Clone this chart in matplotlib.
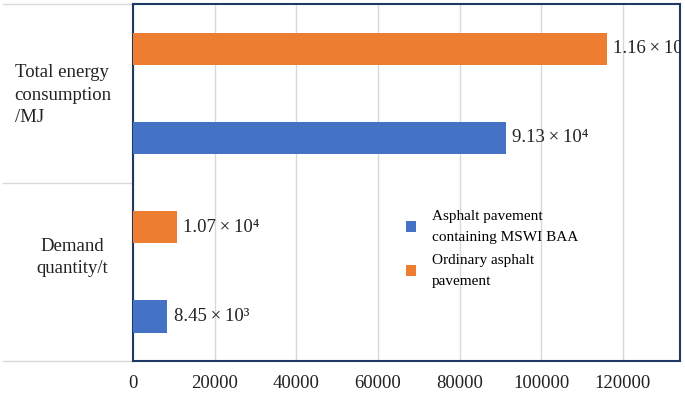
import numpy as np
import matplotlib.pyplot as plt
from matplotlib.lines import Line2D

plt.rcParams['font.family'] = ['Liberation Serif', 'DejaVu Serif']

categories = ['Demand\nquantity/t', 'Total energy\nconsumption\n/MJ']
series = ['Asphalt pavement\ncontaining MSWI BAA', 'Ordinary asphalt\npavement']
baa_vals = [8450, 91300]
ordinary_vals = [10700, 116000]
baa_labels = ['8.45\u2009×\u200910³', '9.13\u2009×\u200910⁴']
ordinary_labels = ['1.07\u2009×\u200910⁴', '1.16\u2009×\u200910⁵']
xticks = [0, 20000, 40000, 60000, 80000, 100000, 120000]

fig = plt.figure(figsize=(6.85, 3.93), dpi=100)
ax = fig.add_axes([0.194, 0.081, 0.799, 0.909])

y = np.arange(len(categories))
h = 0.18
b1 = ax.barh(y - 0.25, baa_vals, height=h, color='#4472C4', label=series[0], zorder=3)
b2 = ax.barh(y + 0.25, ordinary_vals, height=h, color='#ED7D31', label=series[1], zorder=3)

for bars, labs in [(b1, baa_labels), (b2, ordinary_labels)]:
    for bar, lab in zip(bars, labs):
        ax.text(bar.get_width() + 1500, bar.get_y() + bar.get_height() / 2, lab,
                va='center', ha='left', fontsize=13.5, color='#222222', clip_on=True)

ax.set_xlim(0, 134000)
ax.set_ylim(-0.5, 1.5)
ax.set_xticks(xticks)
ax.set_xticklabels([str(t) for t in xticks], fontsize=13.5, color='#222222')
ax.tick_params(axis='x', length=0, pad=10)
ax.set_yticks([])
ax.grid(axis='x', color='#d9d9d9', linewidth=1, zorder=0)
for s in ax.spines.values():
    s.set_color('#1F3864')
    s.set_linewidth(1.5)

# category labels on the left with separator lines
ax.text(-0.216, 0.745, categories[1], transform=ax.transAxes, ha='left', va='center',
        fontsize=13.5, color='#222222', linespacing=1.45)
ax.text(-0.11, 0.29, categories[0], transform=ax.transAxes, ha='center', va='center',
        fontsize=13.5, color='#222222', linespacing=1.45)
for yy in [0.0, 0.5, 1.0]:
    ax.add_line(Line2D([-0.238, 0], [yy, yy], transform=ax.transAxes, color='#d9d9d9',
                       linewidth=1, clip_on=False))

leg = ax.legend(handles=[b1, b2], loc='upper left', bbox_to_anchor=(0.487, 0.44), frameon=False,
                fontsize=11, handlelength=0.7, handleheight=0.7, handletextpad=1.0,
                labelspacing=0.65, borderaxespad=0)
for t in leg.get_texts():
    t.set_linespacing(1.8)

fig.savefig('out.png', dpi=100)
